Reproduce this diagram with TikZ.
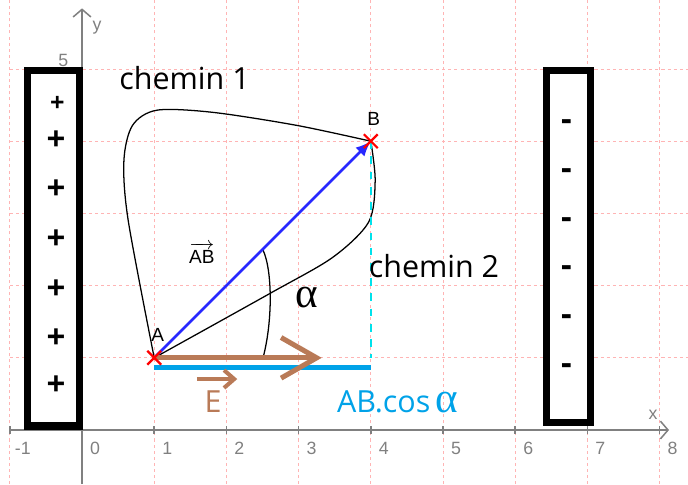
\documentclass[tikz,border=0pt]{standalone}
\usepackage{fontspec}
\setmainfont{Open Sans}
\newfontfamily\axisfont{Liberation Sans}
\newfontfamily\greekfont{Liberation Serif}
\usepackage{amsmath}
\usetikzlibrary{arrows.meta,shapes.misc}
\definecolor{gridpink}{RGB}{255,180,180}
\definecolor{axisgray}{RGB}{128,128,128}
\definecolor{brownE}{RGB}{185,122,87}
\definecolor{skyblue}{RGB}{0,162,232}
\definecolor{vecblue}{RGB}{40,40,255}
\definecolor{dashcyan}{RGB}{0,225,235}

\begin{document}
\begin{tikzpicture}[
  every node/.style={font=\fontsize{12}{14}\selectfont},
  gridline/.style={gridpink, line width=0.4pt, dash pattern=on 1.2pt off 1.2pt},
  axis/.style={axisgray, line width=0.6pt},
  ticklabel/.style={font=\axisfont\fontsize{7}{8}\selectfont, text=axisgray, inner sep=1pt},
  ptlabel/.style={font=\axisfont\fontsize{7.5}{8}\selectfont, inner sep=1pt},
  ptmark/.style={draw=red, cross out, line width=0.9pt, minimum size=0.16cm, inner sep=0pt},
  platebox/.style={draw, line width=2.8pt, fill=white, inner sep=0pt},
  sign/.style={font=\bfseries\fontsize{13}{14}\selectfont, inner sep=0pt},
  greek/.style={font=\greekfont\fontsize{17}{18}\selectfont},
  >=Stealth
]
\useasboundingbox (-1.136,-0.748) rectangle (8.393,5.956);

\draw[gridline] (-1,-0.75) -- (-1,5.96);
\foreach \x in {1,...,8} \draw[gridline] (\x,-0.75) -- (\x,5.96);
\foreach \y in {1,...,5} \draw[gridline] (-1,\y) -- (8.39,\y);

\draw[axis, -{Straight Barb[length=3pt,width=7pt]}] (-1,0) -- (8.13,0);
\draw[axis, -{Straight Barb[length=3pt,width=7pt]}] (0,-0.75) -- (0,5.84);
\foreach \x in {-1,...,8} {
  \draw[axis] (\x,-0.05) -- (\x,0.05);
  \node[ticklabel] (tick\x) at (\x+0.18,-0.25) {\x};
}
\node[ticklabel] (ylab5) at (-0.26,5.12) {5};
\node[ticklabel] (xname) at (7.91,0.21) {x};
\node[ticklabel] (yname) at (0.21,5.57) {y};

\node[platebox, minimum width=0.72cm, minimum height=4.925cm] (posplate) at (-0.395,2.518) {};
\node[platebox, minimum width=0.603cm, minimum height=4.87cm] (negplate) at (6.735,2.545) {};

\node[sign, font=\bfseries\fontsize{10}{12}\selectfont] (plus1) at (-0.34,4.52) {+};
\foreach \y [count=\i from 2] in {4.01,3.33,2.64,1.95,1.27,0.61}
  \node[sign] (plus\i) at (-0.36,\y) {+};
\foreach \y [count=\i] in {4.22,3.54,2.87,2.20,1.52,0.84}
  \node[sign] (minus\i) at (6.71,\y) {-};

\coordinate (A) at (1,1);
\coordinate (B) at (4,4);
\coordinate (Bfoot) at (4,1);
\coordinate (projA) at (1,0.87);
\coordinate (projB) at (4,0.87);
\coordinate (Etip) at (3.32,1);
\coordinate (Estart) at (1.59,0.706);
\coordinate (Eend) at (2.15,0.706);
\coordinate (arcTop) at (2.507,2.493);
\coordinate (arcBot) at (2.507,1.0);

\draw[line width=0.5pt] plot[smooth] coordinates {(A) (0.64,2.9) (0.58,3.73) (0.70,4.22) (1.04,4.43) (1.81,4.40) (2.97,4.22) (B)};
\draw[line width=0.5pt] plot[smooth] coordinates {(A) (2.60,1.89) (3.47,2.39) (3.97,2.88) (4.06,3.45) (B)};
\draw[line width=0.5pt] (arcTop) .. controls (2.64,2.2) and (2.64,1.5) .. (arcBot);

\draw[dashcyan, line width=0.9pt, dashed] (B) -- (Bfoot);
\draw[skyblue, line width=2pt] (projA) -- (projB);
\draw[vecblue, line width=1pt, -{Latex[length=6pt,width=5pt]}] (A) -- (B);
\draw[brownE, line width=2pt, -{Straight Barb[length=14pt,width=16pt]}] (A) -- (Etip);
\draw[brownE, line width=1.6pt, -{Straight Barb[length=4pt,width=7pt]}] (Estart) -- (Eend);

\node[ptmark] (markA) at (A) {};
\node[ptmark] (markB) at (B) {};
\node[ptlabel] (labA) at (1.05,1.316) {A};
\node[ptlabel] (labB) at (4.04,4.31) {B};
\node[ptlabel] (labAB) at (1.66,2.45) {$\overrightarrow{\mbox{AB}}$};

\node (chemin1) at (1.42,4.875) {chemin 1};
\node (chemin2) at (4.875,2.27) {chemin 2};
\node[greek] (alpha) at (3.12,1.84) {α};
\node[text=brownE] (Elabel) at (1.814,0.388) {E};
\node[text=skyblue] (ABcos) at (4.37,0.39) {AB.cos\,{\greekfont\fontsize{17}{18}\selectfont α}};
\end{tikzpicture}
\end{document}
